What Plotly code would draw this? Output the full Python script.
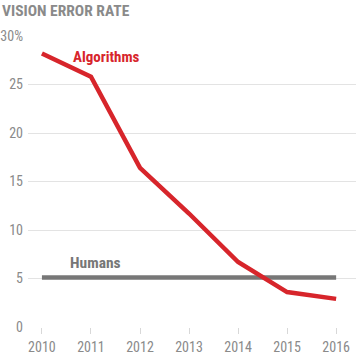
import plotly.graph_objects as go

years = [2010, 2011, 2012, 2013, 2014, 2015, 2016]
algorithms = [28.2, 25.8, 16.4, 11.7, 6.7, 3.6, 2.9]
humans = [5.1, 5.1, 5.1, 5.1, 5.1, 5.1, 5.1]
y_ticks = [0, 5, 10, 15, 20, 25, 30]
y_ticktext = ["0", "5", "10", "15", "20", "25", "30%"]
x_ticktext = ["2010", "2011", "2012", "2013", "2014", "2015", "2016"]

FONT = "Roboto Condensed, DejaVu Sans Condensed, sans-serif"
RED = "#d7252b"
GREY = "#777777"
TICKGREY = "#8a8a8a"

fig = go.Figure()
fig.add_trace(go.Scatter(x=years, y=humans, mode="lines",
                         line=dict(color=GREY, width=4.5), hoverinfo="skip"))
fig.add_trace(go.Scatter(x=years, y=algorithms, mode="lines",
                         line=dict(color=RED, width=4.5), hoverinfo="skip"))

fig.add_annotation(x=2011.31, y=27.8, text="<b>Algorithms</b>", showarrow=False,
                   font=dict(family=FONT, size=15, color=RED))
fig.add_annotation(x=2011.10, y=6.6, text="<b>Humans</b>", showarrow=False,
                   font=dict(family=FONT, size=15.5, color=GREY))

fig.update_layout(
    width=356, height=364,
    margin=dict(l=26, r=0, t=36, b=37),
    paper_bgcolor="white", plot_bgcolor="white",
    showlegend=False,
    title=dict(text="<b>VISION ERROR RATE</b>", x=2/356, xanchor="left",
               y=1 - 10.5/364, yanchor="middle", xref="container",
               font=dict(family=FONT, size=15.5, color="#8a8a8a")),
    xaxis=dict(range=[2009.716, 2016.405], tickvals=years, ticktext=x_ticktext,
               showgrid=False, zeroline=False, showline=False,
               ticks="outside", ticklen=6, tickcolor="#d8d8d8", tickwidth=1,
               ticklabelstandoff=1,
               tickfont=dict(family=FONT, size=14, color=TICKGREY)),
    yaxis=dict(range=[0, 30], tickvals=y_ticks, ticktext=y_ticktext,
               showgrid=True, gridcolor="#e3e3e3", gridwidth=1,
               zeroline=False, showline=False, ticks="",
               ticklabelstandoff=4,
               tickfont=dict(family=FONT, size=14, color=TICKGREY)),
)

fig.write_html("out.html", config={"displayModeBar": False},
               post_script="document.body.style.margin='0';")
